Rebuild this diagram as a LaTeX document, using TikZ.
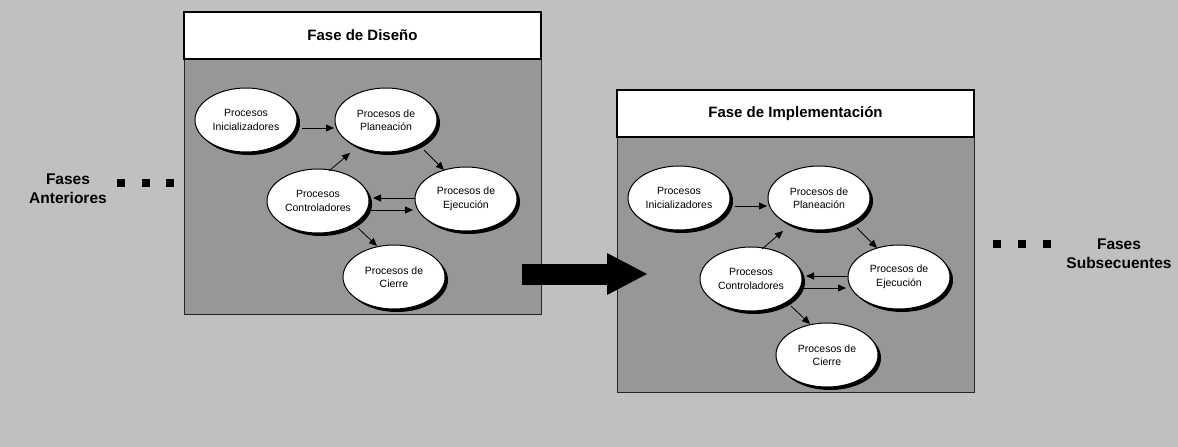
\documentclass[tikz,border=0pt]{standalone}
\usepackage{fontspec}
\setmainfont{Liberation Sans}
\usetikzlibrary{shapes.geometric, arrows.meta, calc, shadows}

\definecolor{bggray}{HTML}{C0C0C0}
\definecolor{panelgray}{HTML}{979797}

% One phase: framed panel with title and the five process groups.
% #1 name prefix, #2 title, #3/#4 offset of the panel
\newcommand\drawphase[4]{%
  \node[panelbody] (#1body) at (184+#3,59+#4) {};
  \node[titlebox] (#1title) at (184+#3,12+#4) {#2};
  \node[proc] (#1inic)   at (246+#3,120+#4) {Procesos\\Inicializadores};
  \node[proc] (#1plan)   at (386+#3,120+#4) {Procesos de\\Planeación};
  \node[proc] (#1ctrl)   at (318+#3,201+#4) {Procesos\\Controladores};
  \node[proc] (#1ejec)   at (466+#3,199+#4) {Procesos de\\Ejecución};
  \node[proc] (#1cierre) at (394+#3,277+#4) {Procesos de\\Cierre};
  \draw[flow] ($(#1inic)+(56,8)$)  -- ($(#1plan)+(-52,8)$);
  \draw[flow] ($(#1ctrl)+(11,-30)$) -- ($(#1plan)+(-36,33)$);
  \draw[flow] ($(#1plan)+(38,30)$) -- ($(#1ejec)+(-22,-29)$);
  \draw[flow] ($(#1ejec)+(-51,-1)$) -- ($(#1ctrl)+(55,-3)$);
  \draw[flow] ($(#1ctrl)+(52,9)$)  -- ($(#1ejec)+(-53,11)$);
  \draw[flow] ($(#1ctrl)+(40,27)$) -- ($(#1cierre)+(-17,-31)$);
}

\begin{document}
\begin{tikzpicture}[x=1pt, y=-1pt,
  every node/.style={inner sep=0pt, outer sep=0pt},
  panelbody/.style={rectangle, draw=black!85, line width=0.8pt, fill=panelgray,
    anchor=north west, minimum width=357pt, minimum height=255pt},
  titlebox/.style={rectangle, draw=black, line width=1.4pt, fill=white,
    anchor=north west, minimum width=357pt, minimum height=47pt,
    font=\fontsize{15}{18}\selectfont\bfseries},
  proc/.style={ellipse, draw=black, line width=1pt, fill=white,
    minimum width=102pt, minimum height=64pt, align=center,
    font=\fontsize{10.5}{13.5}\selectfont,
    drop shadow={shadow xshift=3pt, shadow yshift=-3pt, fill=black, opacity=1}},
  flow/.style={draw=black, line width=0.8pt, -{Triangle[length=8pt, width=7pt]}},
  sidelabel/.style={align=center, font=\fontsize{15.5}{19}\selectfont\bfseries},
  dot/.style={rectangle, fill=black, minimum size=8.5pt},
  bigflow/.style={line width=21pt, -{Triangle[length=40pt, width=42pt, line width=0pt]}}
]
\fill[bggray] (0,0) rectangle (1178,447);
\useasboundingbox (0,0) rectangle (1178,447);

\drawphase{d}{Fase de Diseño}{0}{0}
\drawphase{i}{Fase de Implementación}{433}{78}

% transition between the two phases
\coordinate (bigtail) at (522,274);
\coordinate (bighead) at (647,274);
\draw[bigflow] (bigtail) -- (bighead);

% earlier phases
\node[sidelabel] (prev) at (68,189) {Fases\\Anteriores};
\node[dot] (p1) at (121,183) {};
\node[dot] (p2) at (146,183) {};
\node[dot] (p3) at (170,183) {};

% later phases
\node[dot] (n1) at (997,244) {};
\node[dot] (n2) at (1022,244) {};
\node[dot] (n3) at (1047,244) {};
\node[sidelabel] (next) at (1119,254) {Fases\\Subsecuentes};
\end{tikzpicture}
\end{document}
